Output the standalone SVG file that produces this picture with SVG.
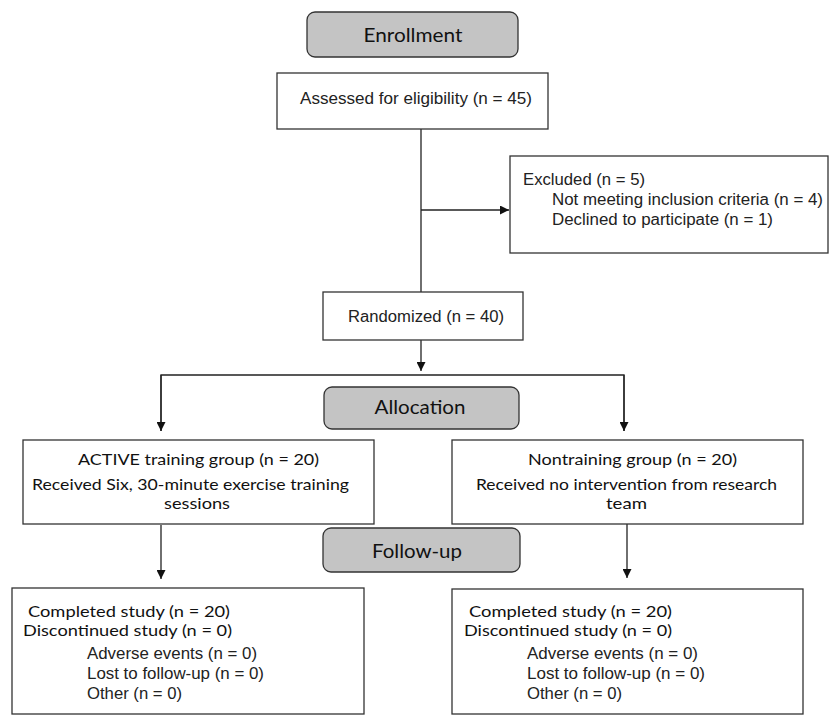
<svg xmlns="http://www.w3.org/2000/svg" width="830" height="716" viewBox="0 0 830 716">
<style>
.box{fill:#fff;stroke:#333;stroke-width:1.3}
.stage{fill:#c4c4c4;stroke:#333;stroke-width:1.3}
.cal{font-family:Lato,"Open Sans",sans-serif;fill:#111}
.ari{font-family:"Liberation Sans",Arial,sans-serif;fill:#222}
.ln{stroke:#222;stroke-width:1.3;fill:none}
</style>
<defs>
<marker id="ah" viewBox="0 0 10 10" refX="10" refY="5" markerWidth="9" markerHeight="9" markerUnits="userSpaceOnUse" orient="auto">
<path d="M0,0 L10,5 L0,10 z" fill="#111"/>
</marker>
</defs>
<g id="connectors">
<line class="ln" x1="421" y1="129" x2="421" y2="292"/>
<line class="ln" x1="421" y1="210" x2="509" y2="210" marker-end="url(#ah)"/>
<line class="ln" x1="421" y1="340" x2="421" y2="371" marker-end="url(#ah)"/>
<polyline class="ln" points="161,431 161,375 624,375 624,431"/>
<line class="ln" x1="161" y1="375" x2="161" y2="431" marker-end="url(#ah)"/>
<line class="ln" x1="624" y1="375" x2="624" y2="431" marker-end="url(#ah)"/>
<line class="ln" x1="161" y1="525" x2="161" y2="579" marker-end="url(#ah)"/>
<line class="ln" x1="627" y1="524" x2="627" y2="578" marker-end="url(#ah)"/>
</g>
<g id="enrollment">
<rect class="stage" x="307" y="12" width="211" height="45" rx="8"/>
<text class="cal" x="413" y="42" font-size="19" text-anchor="middle" textLength="99" lengthAdjust="spacingAndGlyphs">Enrollment</text>
</g>
<g id="assessed">
<rect class="box" x="277" y="73" width="271" height="56"/>
<text class="ari" x="300" y="104" font-size="16" textLength="232" lengthAdjust="spacingAndGlyphs">Assessed for eligibility (n = 45)</text>
</g>
<g id="excluded">
<rect class="box" x="510" y="156" width="318" height="97"/>
<text class="ari" x="523" y="185" font-size="16" textLength="122" lengthAdjust="spacingAndGlyphs">Excluded (n = 5)</text>
<text class="ari" x="552" y="205" font-size="16" textLength="271" lengthAdjust="spacingAndGlyphs">Not meeting inclusion criteria (n = 4)</text>
<text class="ari" x="552" y="225" font-size="16" textLength="221" lengthAdjust="spacingAndGlyphs">Declined to participate (n = 1)</text>
</g>
<g id="randomized">
<rect class="box" x="323" y="292" width="200" height="48"/>
<text class="ari" x="348" y="322" font-size="16" textLength="156" lengthAdjust="spacingAndGlyphs">Randomized (n = 40)</text>
</g>
<g id="allocation">
<rect class="stage" x="324" y="387" width="195" height="42" rx="8"/>
<text class="cal" x="420" y="414" font-size="19" text-anchor="middle" textLength="91" lengthAdjust="spacingAndGlyphs">Allocation</text>
</g>
<g id="active">
<rect class="box" x="23" y="440" width="351" height="84"/>
<text class="cal" x="78" y="465" font-size="16" textLength="241" lengthAdjust="spacingAndGlyphs">ACTIVE training group (n = 20)</text>
<text class="cal" x="32" y="490" font-size="16" textLength="317" lengthAdjust="spacingAndGlyphs">Received Six, 30-minute exercise training</text>
<text class="cal" x="164" y="509" font-size="16" textLength="66" lengthAdjust="spacingAndGlyphs">sessions</text>
</g>
<g id="nontraining">
<rect class="box" x="452" y="440" width="351" height="84"/>
<text class="cal" x="528" y="465" font-size="16" textLength="209" lengthAdjust="spacingAndGlyphs">Nontraining group (n = 20)</text>
<text class="cal" x="476" y="490" font-size="16" textLength="301" lengthAdjust="spacingAndGlyphs">Received no intervention from research</text>
<text class="cal" x="606" y="509" font-size="16" textLength="41" lengthAdjust="spacingAndGlyphs">team</text>
</g>
<g id="followup">
<rect class="stage" x="323" y="528" width="197" height="44" rx="8"/>
<text class="cal" x="417" y="558" font-size="19" text-anchor="middle" textLength="90" lengthAdjust="spacingAndGlyphs">Follow-up</text>
</g>
<g id="completed-active">
<rect class="box" x="12" y="588" width="352" height="126"/>
<text class="cal" x="28" y="617" font-size="16" textLength="202" lengthAdjust="spacingAndGlyphs">Completed study (n = 20)</text>
<text class="cal" x="23" y="636" font-size="16" textLength="209" lengthAdjust="spacingAndGlyphs">Discontinued study (n = 0)</text>
<text class="ari" x="87" y="659" font-size="16" textLength="170" lengthAdjust="spacingAndGlyphs">Adverse events (n = 0)</text>
<text class="ari" x="87" y="679" font-size="16" textLength="177" lengthAdjust="spacingAndGlyphs">Lost to follow-up (n = 0)</text>
<text class="ari" x="87" y="699" font-size="16" textLength="95" lengthAdjust="spacingAndGlyphs">Other (n = 0)</text>
</g>
<g id="completed-nontraining">
<rect class="box" x="452" y="589" width="351" height="125"/>
<text class="cal" x="469" y="617" font-size="16" textLength="203" lengthAdjust="spacingAndGlyphs">Completed study (n = 20)</text>
<text class="cal" x="464" y="636" font-size="16" textLength="208" lengthAdjust="spacingAndGlyphs">Discontinued study (n = 0)</text>
<text class="ari" x="527" y="659" font-size="16" textLength="171" lengthAdjust="spacingAndGlyphs">Adverse events (n = 0)</text>
<text class="ari" x="527" y="679" font-size="16" textLength="178" lengthAdjust="spacingAndGlyphs">Lost to follow-up (n = 0)</text>
<text class="ari" x="527" y="699" font-size="16" textLength="95" lengthAdjust="spacingAndGlyphs">Other (n = 0)</text>
</g>
</svg>
